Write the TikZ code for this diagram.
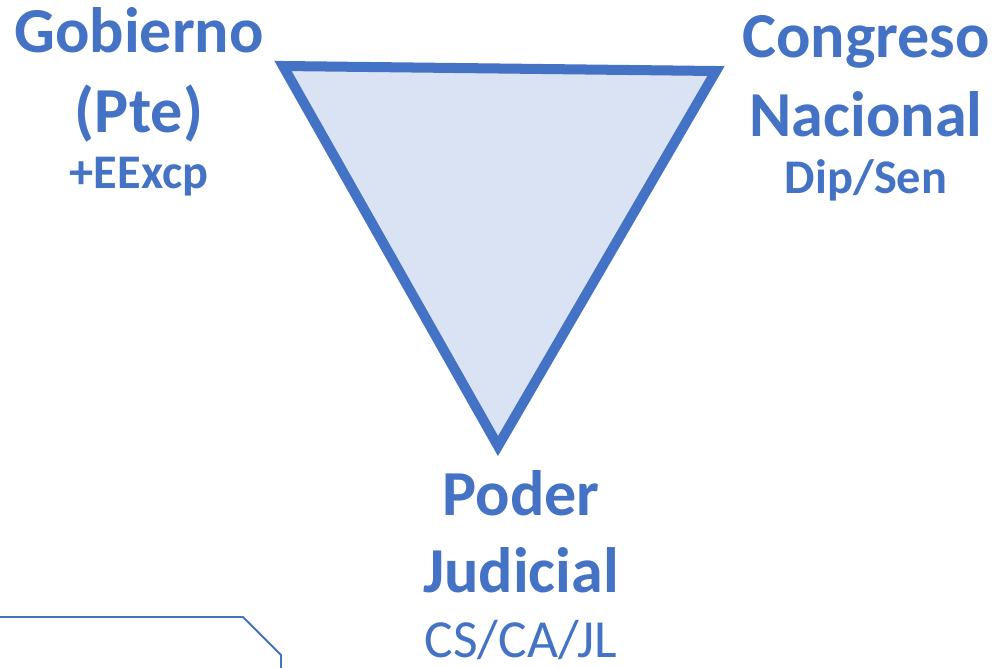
\documentclass[tikz,border=0pt]{standalone}
\usepackage{fontspec}
\setmainfont{Carlito}
\definecolor{ofblue}{HTML}{4472C4}
\definecolor{oflight}{HTML}{DAE3F3}
\tikzset{
  big/.style={text=ofblue,font=\fontsize{36.5}{40}\selectfont\bfseries,inner sep=0pt,anchor=base},
  sub/.style={text=ofblue,font=\fontsize{27.5}{30}\selectfont\bfseries,inner sep=0pt,anchor=base},
  subreg/.style={text=ofblue,font=\fontsize{30.5}{36}\selectfont,inner sep=0pt,anchor=base}
}
\begin{document}
\begin{tikzpicture}[x=0.02cm,y=-0.02cm]
\useasboundingbox (0,0) rectangle (996,667);
\filldraw[fill=oflight,draw=ofblue,line width=5.7pt,line join=miter] (283,66) -- (716,71) -- (498,446) -- cycle;
\node[big] (gob) at (139,52) {Gobierno};
\node[big] (pte) at (139,132) {(Pte)};
\node[sub] (eexcp) at (139,188) {+EExcp};
\node[big] (cong) at (866,57) {Congreso};
\node[big] (nac) at (866,136) {Nacional};
\node[sub] (dipsen) at (866,193) {Dip/Sen};
\node[big] (poder) at (521,515) {Poder};
\node[big] (jud) at (521,592) {Judicial};
\node[subreg] (cortes) at (521,657) {CS/CA/JL};
\begin{scope}
\clip (0,0) rectangle (996,667);
\draw[ofblue,line width=1.1pt] (0,617) -- (243,617) -- (281,655) -- (281,680);
\end{scope}
\end{tikzpicture}
\end{document}
